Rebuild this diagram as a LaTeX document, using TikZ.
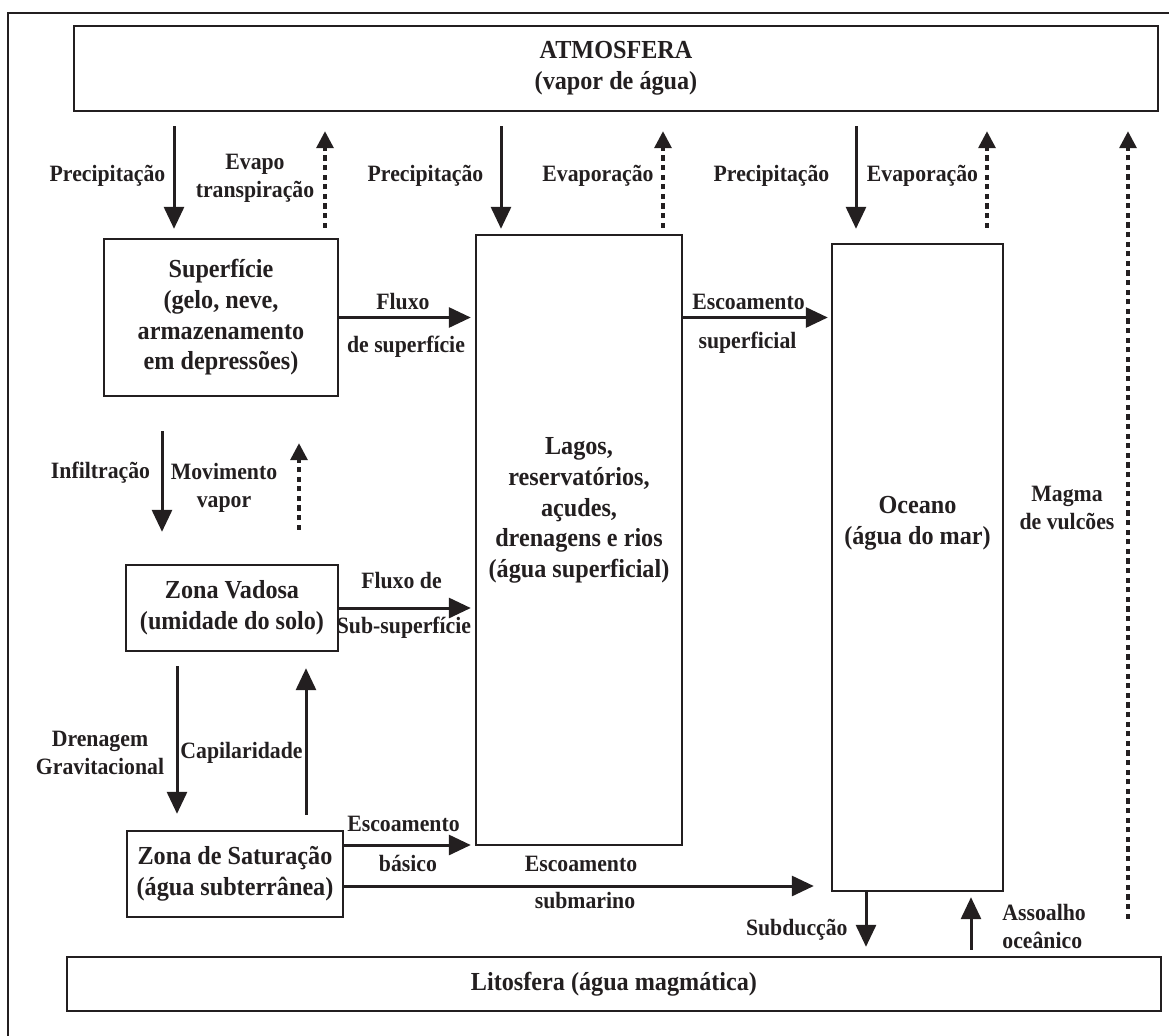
\documentclass[tikz,border=0pt]{standalone}
\usepackage{fontspec}
\setmainfont{Liberation Serif}[FakeStretch=0.93]
\usetikzlibrary{arrows.meta}
\definecolor{ink}{RGB}{35,31,32}
\newcommand{\boxfont}{\fontsize{13}{15.3}\selectfont\bfseries}
\newcommand{\lblfont}{\fontsize{11.7}{14}\selectfont\bfseries}
\tikzset{
  store/.style={draw=ink, line width=1.2pt, inner sep=0pt, align=center, font=\boxfont, text=ink},
  bigtxt/.style={inner sep=0pt, align=center, font=\boxfont, text=ink},
  txt/.style={inner sep=0pt, align=center, font=\lblfont, text=ink},
  flow/.style={draw=ink, line width=1.5pt, -{Triangle[length=11pt,width=10pt]}},
  vapour/.style={draw=ink, line width=1.7pt, dash pattern=on 2.6pt off 2.2pt, -{Triangle[length=8.5pt,width=8.5pt]}},
}
\begin{document}
\begin{tikzpicture}[x=0.5pt,y=0.5pt,yscale=-1,xscale=1]
\useasboundingbox (0,0) rectangle (1169,1035);

%Frame
\draw [draw=ink, line width=0.85pt] (8,13) rectangle (1185,1050);

%Reservoirs
\node [store, minimum width=542pt, minimum height=42.5pt] (atm) at (616,68.5) {ATMOSFERA\\(vapor de água)};
\node [store, minimum width=117pt, minimum height=78.5pt] (sup) at (221,317.5) {Superfície\\(gelo, neve,\\armazenamento\\em depressões)};
\node [store, minimum width=103pt, minimum height=305pt] (lagos) at (579,540) {};
\node [bigtxt] (lagosTxt) at (579,510.5) {Lagos,\\reservatórios,\\açudes,\\drenagens e rios\\(água superficial)};
\node [store, minimum width=85.5pt, minimum height=323.5pt] (ocean) at (917.5,567.5) {};
\node [bigtxt] (oceanTxt) at (917.5,523.5) {Oceano\\(água do mar)};
\node [store, minimum width=106pt, minimum height=43pt] (vad) at (232,608) {Zona Vadosa\\(umidade do solo)};
\node [store, minimum width=108pt, minimum height=43pt] (sat) at (235,874) {Zona de Saturação\\(água subterrânea)};
\node [store, minimum width=547pt, minimum height=27pt] (lit) at (614,984) {Litosfera (água magmática)};

%Columns and rows of the connectors
\coordinate (xPrecA) at (174,0);
\coordinate (xEvapA) at (325,0);
\coordinate (xPrecB) at (501,0);
\coordinate (xEvapB) at (663,0);
\coordinate (xPrecC) at (856,0);
\coordinate (xEvapC) at (987,0);
\coordinate (xMagma) at (1128,0);
\coordinate (xInfil) at (162,0);
\coordinate (xMovVap) at (299,0);
\coordinate (xDren) at (177,0);
\coordinate (xCapil) at (306,0);
\coordinate (xSubd) at (866,0);
\coordinate (xAsso) at (971,0);
\coordinate (yBas) at (0,845);
\coordinate (ySubm) at (0,886);

%Straight Lines
\draw [flow, shorten <=7pt, shorten >=4.5pt] (atm.south -| xPrecA) -- (sup.north -| xPrecA);
\draw [vapour, shorten <=5pt, shorten >=9.5pt] (sup.north -| xEvapA) -- (atm.south -| xEvapA);
\draw [flow, shorten <=7pt, shorten >=2.5pt] (atm.south -| xPrecB) -- (lagos.north -| xPrecB);
\draw [vapour, shorten <=3pt, shorten >=9.5pt] (lagos.north -| xEvapB) -- (atm.south -| xEvapB);
\draw [flow, shorten <=7pt, shorten >=7pt] (atm.south -| xPrecC) -- (ocean.north -| xPrecC);
\draw [vapour, shorten <=7.5pt, shorten >=9.5pt] (ocean.north -| xEvapC) -- (atm.south -| xEvapC);
\draw [vapour, shorten <=18.5pt, shorten >=9.5pt] (lit.north -| xMagma) -- (atm.south -| xMagma);
\draw [flow, shorten >=2pt] (sup.east) -- (sup.east -| lagos.west);
\draw [flow, shorten >=1.5pt] (lagos.east |- sup.east) -- (ocean.west |- sup.east);
\draw [flow, shorten <=17pt, shorten >=16pt] (sup.south -| xInfil) -- (vad.north -| xInfil);
\draw [vapour, shorten <=17pt, shorten >=23pt] (vad.north -| xMovVap) -- (sup.south -| xMovVap);
\draw [flow, shorten >=2pt] (vad.east) -- (vad.east -| lagos.west);
\draw [flow, shorten <=7pt, shorten >=8pt] (vad.south -| xDren) -- (sat.north -| xDren);
\draw [flow, shorten <=7.5pt, shorten >=8pt] (sat.north -| xCapil) -- (vad.south -| xCapil);
\draw [flow, shorten >=2pt] (sat.east |- yBas) -- (lagos.west |- yBas);
\draw [flow, shorten >=8.5pt] (sat.east |- ySubm) -- (ocean.west |- ySubm);
\draw [flow, shorten >=4.5pt] (ocean.south -| xSubd) -- (lit.north -| xSubd);
\draw [flow, shorten <=3pt, shorten >=2.5pt] (lit.north -| xAsso) -- (ocean.south -| xAsso);

% Text Node
\node [txt] (precA) at (107.5,176) {Precipitação};
\node [txt] (evapA) at (255,178) {Evapo\\transpiração};
\node [txt] (precB) at (425.5,176) {Precipitação};
\node [txt] (evapB) at (598,176) {Evaporação};
\node [txt] (precC) at (771.5,176) {Precipitação};
\node [txt] (evapC) at (922.5,176) {Evaporação};
\node [txt] (fluxSupA) at (403,302) {Fluxo};
\node [txt] (fluxSupB) at (406,347) {de superfície};
\node [txt] (escSupA) at (748.5,302) {Escoamento};
\node [txt] (escSupB) at (747.5,343) {superficial};
\node [txt] (infil) at (100.5,473) {Infiltração};
\node [txt] (movVap) at (224,488) {Movimento\\vapor};
\node [txt] (fluxSubA) at (401.5,581) {Fluxo de};
\node [txt] (fluxSubB) at (404,628) {Sub-superfície};
\node [txt] (dren) at (100,753) {Drenagem\\Gravitacional};
\node [txt] (capil) at (241.5,753) {Capilaridade};
\node [txt] (escBasA) at (403.5,824) {Escoamento};
\node [txt] (escBasB) at (408,863) {básico};
\node [txt] (escSubA) at (581,864) {Escoamento};
\node [txt] (escSubB) at (585,901) {submarino};
\node [txt, anchor=east] (subd) at (848,930) {Subducção};
\node [txt, anchor=west, align=left] (assoa) at (1002,926.5) {Assoalho\\oceânico};
\node [txt] (magma) at (1067,508) {Magma\\de vulcões};

\end{tikzpicture}
\end{document}
